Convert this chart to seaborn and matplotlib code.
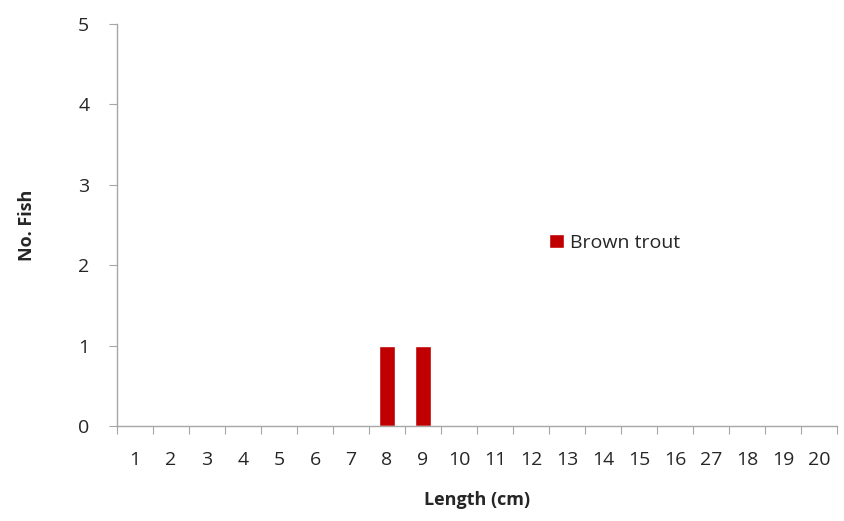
import numpy as np
import pandas as pd
import matplotlib
matplotlib.use("Agg")
import matplotlib.pyplot as plt
import seaborn as sns

# data
lengths = [str(i) for i in range(1, 21)]
tick_labels = ["1", "2", "3", "4", "5", "6", "7", "8", "9", "10",
               "11", "12", "13", "14", "15", "16", "27", "18", "19", "20"]
counts = [0, 0, 0, 0, 0, 0, 0, 1, 1, 0, 0, 0, 0, 0, 0, 0, 0, 0, 0, 0]
series_name = "Brown trout"

df = pd.DataFrame({"Length": lengths, "Count": counts, "Species": series_name})

sns.set_style("white")
plt.rcParams["font.family"] = ["Open Sans", "DejaVu Sans"]

fig = plt.figure(figsize=(8.45, 5.21), dpi=100)
ax = fig.add_axes([0.1385, 0.1823, 0.852, 0.772])

sns.barplot(data=df, x="Length", y="Count", hue="Species", order=lengths,
            palette=["#C00000"], saturation=1, width=0.42, ax=ax, legend=True)

axis_grey = "#A6A6A6"
for side in ["top", "right"]:
    ax.spines[side].set_visible(False)
for side in ["left", "bottom"]:
    ax.spines[side].set_color(axis_grey)
    ax.spines[side].set_linewidth(1.0)

ax.set_xlim(-0.5, len(lengths) - 0.5)
ax.set_ylim(0, 5)
ax.set_yticks(range(0, 6))
ax.tick_params(axis="y", which="major", length=6, color=axis_grey,
               labelsize=14, labelcolor="#262626", pad=14, direction="out", left=True)

# Excel-style: ticks between categories, labels centred on the categories
ax.set_xticks(np.arange(-0.5, len(lengths), 1.0))
ax.set_xticklabels([])
ax.set_xticks(np.arange(len(lengths)), minor=True)
ax.set_xticklabels(tick_labels, minor=True)
ax.tick_params(axis="x", which="major", length=6, color=axis_grey, direction="out", bottom=True)
ax.tick_params(axis="x", which="minor", length=0, labelsize=14, labelcolor="#262626", pad=18)

ax.set_xlabel("Length (cm)", fontsize=13, fontweight="bold", labelpad=16)
ax.set_ylabel("No. Fish", fontsize=13, fontweight="bold", labelpad=30)

ax.legend(loc="center left", bbox_to_anchor=(0.6, 0.455), frameon=False,
          borderpad=0, borderaxespad=0,
          fontsize=14, handlelength=0.75, handleheight=0.75, handletextpad=0.35,
          labelcolor="#262626")

fig.savefig("out.png", dpi=100)
